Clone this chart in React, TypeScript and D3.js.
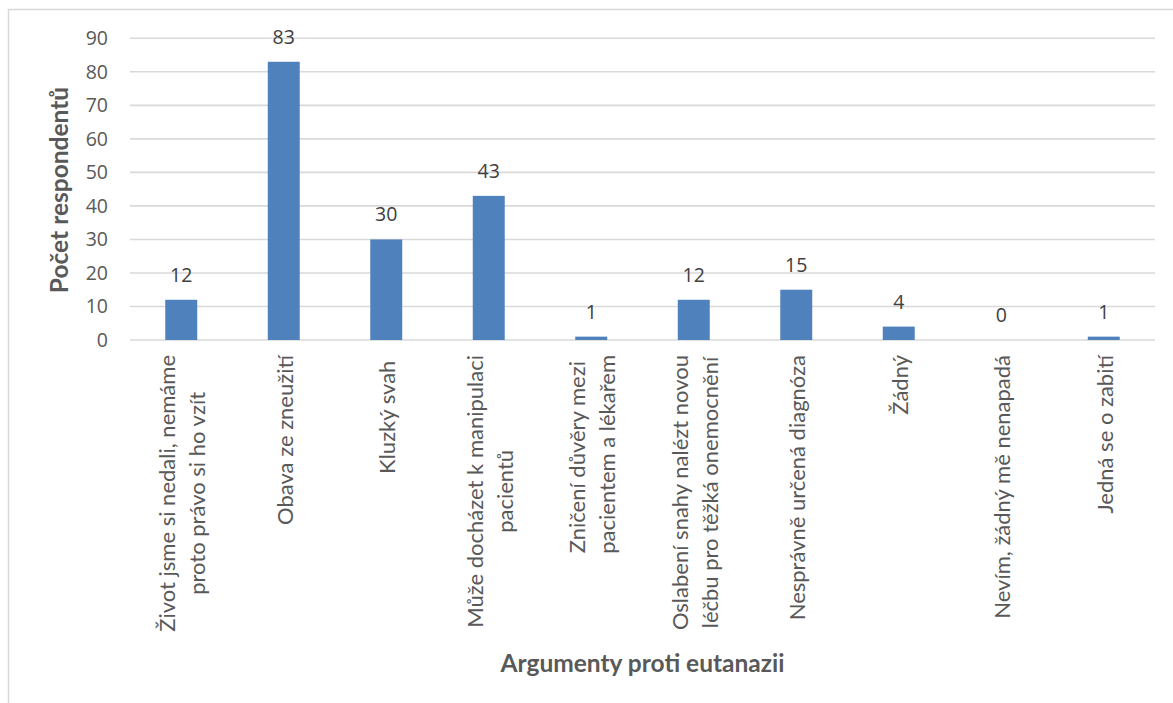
import React, { useEffect, useRef } from 'react';
import * as d3 from 'd3';

// Arguments against euthanasia (each entry holds the wrapped lines of one category label)
const categories: string[][] = [
  ['Život jsme si nedali, nemáme', 'proto právo si ho vzít'],
  ['Obava ze zneužití'],
  ['Kluzký svah '],
  ['Může docházet k manipulaci', 'pacientů'],
  ['Zničení důvěry mezi ', 'pacientem a lékařem'],
  ['Oslabení snahy nalézt novou', 'léčbu pro těžká onemocnění'],
  ['Nesprávně určená diagnóza'],
  ['Žádný'],
  ['Nevím, žádný mě nenapadá'],
  ['Jedná se o zabití'],
];

// Number of respondents per argument
const respondents: number[] = [12, 83, 30, 43, 1, 12, 15, 4, 0, 1];

const yTicks: number[] = [0, 10, 20, 30, 40, 50, 60, 70, 80, 90];
const yTitle = 'Počet respondentů';
const xTitle = 'Argumenty proti eutanazii';

const W = 1173;
const H = 703;
const PLOT = { left: 130, right: 1155, top: 38.3, bottom: 340 };
const BAR_COLOR = '#4F81BD';
const GRID_COLOR = '#d9d9d9';
const TEXT_COLOR = '#595959';
const LABEL_COLOR = '#404040';
const TEXT_FONT = 'Lato, "Open Sans", sans-serif';
const NUM_FONT = '"Open Sans", Lato, sans-serif';

export default function App() {
  const ref = useRef<SVGSVGElement>(null);

  useEffect(() => {
    const svg = d3.select(ref.current);
    svg.selectAll('*').remove();

    const idx = categories.map((_, i) => String(i));
    const x = d3
      .scaleBand<string>()
      .domain(idx)
      .range([PLOT.left, PLOT.right])
      .paddingInner(0.688)
      .paddingOuter(0.344);
    const y = d3
      .scaleLinear()
      .domain([0, d3.max(yTicks) as number])
      .range([PLOT.bottom, PLOT.top]);

    // chart frame
    svg
      .append('rect')
      .attr('x', 8.5)
      .attr('y', 9.5)
      .attr('width', W + 20)
      .attr('height', H + 20)
      .attr('fill', '#fff')
      .attr('stroke', GRID_COLOR)
      .attr('stroke-width', 1.5);

    // horizontal gridlines
    svg
      .append('g')
      .selectAll('line')
      .data(yTicks)
      .join('line')
      .attr('x1', PLOT.left)
      .attr('x2', PLOT.right)
      .attr('y1', (d) => y(d))
      .attr('y2', (d) => y(d))
      .attr('stroke', GRID_COLOR)
      .attr('stroke-width', 1.6);

    // y tick labels
    svg
      .append('g')
      .selectAll('text')
      .data(yTicks)
      .join('text')
      .attr('x', 108)
      .attr('y', (d) => y(d))
      .attr('dy', '0.36em')
      .attr('text-anchor', 'end')
      .attr('font-family', NUM_FONT)
      .attr('font-size', 19.5)
      .attr('fill', TEXT_COLOR)
      .text((d) => String(d));

    // bars
    svg
      .append('g')
      .selectAll('rect')
      .data(respondents)
      .join('rect')
      .attr('x', (_, i) => x(String(i)) as number)
      .attr('width', x.bandwidth())
      .attr('y', (d) => y(d))
      .attr('height', (d) => y(0) - y(d))
      .attr('fill', BAR_COLOR);

    // value labels
    svg
      .append('g')
      .selectAll('text')
      .data(respondents)
      .join('text')
      .attr('x', (_, i) => (x(String(i)) as number) + x.bandwidth() / 2)
      .attr('y', (d) => y(d) - 18)
      .attr('text-anchor', 'middle')
      .attr('font-family', NUM_FONT)
      .attr('font-size', 19.5)
      .attr('fill', LABEL_COLOR)
      .text((d) => String(d));

    // rotated category labels, centred line block, anchored just below the axis
    const lineH = 30;
    const topEnd = 355;
    const catG = svg.append('g');
    categories.forEach((lines, i) => {
      const cx = (x(String(i)) as number) + x.bandwidth() / 2;
      const g = catG.append('g');
      const texts = lines.map((ln, j) => {
        const base = cx + 9 + (j - (lines.length - 1) / 2) * lineH;
        return g
          .append('text')
          .attr('font-family', TEXT_FONT)
          .attr('font-size', 22)
          .attr('fill', TEXT_COLOR)
          .attr('text-anchor', 'middle')
          .style('white-space', 'pre')
          .attr('data-base', base)
          .text(ln);
      });
      const maxLen = d3.max(texts, (t) => (t.node() as SVGTextElement).getComputedTextLength()) || 0;
      const cy = topEnd + maxLen / 2;
      texts.forEach((t) => {
        const base = +t.attr('data-base');
        t.attr('transform', `translate(${base},${cy}) rotate(-90)`);
      });
    });

    // axis titles
    svg
      .append('text')
      .attr('transform', `translate(68,190) rotate(-90)`)
      .attr('text-anchor', 'middle')
      .attr('font-family', TEXT_FONT)
      .attr('font-weight', 'bold')
      .attr('font-size', 24.5)
      .attr('fill', TEXT_COLOR)
      .text(yTitle);

    svg
      .append('text')
      .attr('x', (PLOT.left + PLOT.right) / 2)
      .attr('y', 672)
      .attr('text-anchor', 'middle')
      .attr('font-family', TEXT_FONT)
      .attr('font-weight', 'bold')
      .attr('font-size', 24.5)
      .attr('fill', TEXT_COLOR)
      .text(xTitle);
  }, []);

  return (
    <svg
      ref={ref}
      width={W}
      height={H}
      style={{ position: 'absolute', left: 0, top: 0, background: '#fff' }}
    />
  );
}
